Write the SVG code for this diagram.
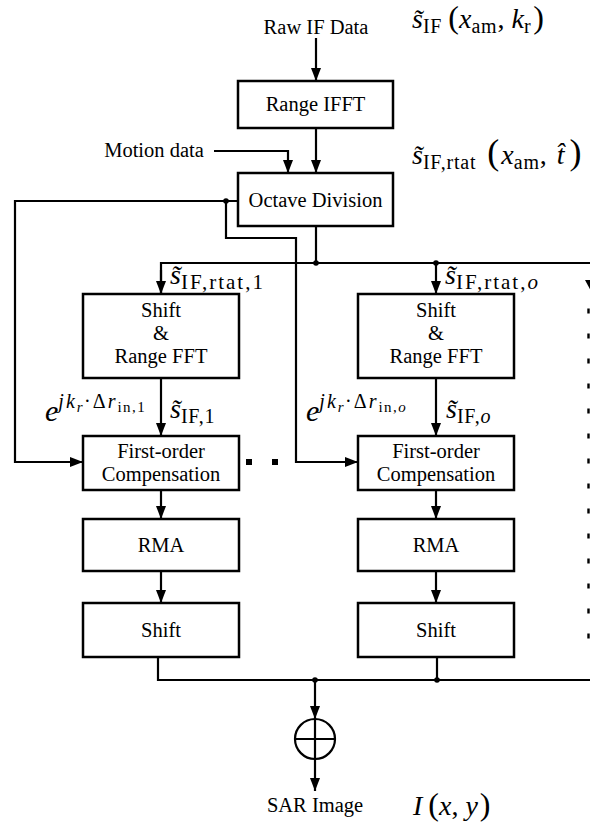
<svg xmlns="http://www.w3.org/2000/svg" width="590" height="828" viewBox="0 0 590 828">
<style>
.box{fill:#fff;stroke:#000;stroke-width:2.5}
.ln{fill:none;stroke:#000;stroke-width:2.2}
text{font-family:"Liberation Serif","Times New Roman",serif;fill:#000}
.t{font-size:20.5px;text-anchor:middle}
.m{font-size:28px}
.mi{font-style:italic}
.sb{font-size:20px;letter-spacing:0.8px}
.sw{font-size:21px;letter-spacing:2px}
.sp{font-size:20px;letter-spacing:2px}
.ss{font-size:15px;letter-spacing:1.5px}
.dot{fill:#000}
</style>
<defs>
<marker id="ah" viewBox="0 0 13 10" refX="13" refY="5" markerWidth="13" markerHeight="10" orient="auto" markerUnits="userSpaceOnUse">
<path d="M0,0 L13,5 L0,10 z" fill="#000"/>
</marker>
</defs>

<g id="connectors">
<path class="ln" d="M316,38 V81" marker-end="url(#ah)"/>
<path class="ln" d="M316,128 V173" marker-end="url(#ah)"/>
<path class="ln" d="M214,151 H288 V173" marker-end="url(#ah)"/>
<path class="ln" d="M238,201 H15 V462 H83" marker-end="url(#ah)"/>
<path class="ln" d="M226,201 V238 H296 V462 H358" marker-end="url(#ah)"/>
<path class="ln" d="M316,226 V263"/>
<path class="ln" d="M161,294 V263 H592"/>
<path class="ln" d="M161,270 V294" marker-end="url(#ah)"/>
<path class="ln" d="M436,263 V294" marker-end="url(#ah)"/>
<path class="ln" d="M161,378 V436" marker-end="url(#ah)"/>
<path class="ln" d="M436,378 V436" marker-end="url(#ah)"/>
<path class="ln" d="M161,490 V519" marker-end="url(#ah)"/>
<path class="ln" d="M436,490 V519" marker-end="url(#ah)"/>
<path class="ln" d="M161,571 V603" marker-end="url(#ah)"/>
<path class="ln" d="M436,571 V603" marker-end="url(#ah)"/>
<path class="ln" d="M158,657 V680 H592"/>
<path class="ln" d="M437,657 V680"/>
<path class="ln" d="M315,680 V719" marker-end="url(#ah)"/>
<path class="ln" d="M315,759 V791" marker-end="url(#ah)"/>
<path d="M588.5,308.5 V640" stroke="#000" stroke-width="2.4" stroke-dasharray="5 20" fill="none"/>
<polygon points="585,280 597,280 591,291" fill="#000"/>
<circle class="dot" cx="226" cy="201" r="2.8"/>
<circle class="dot" cx="316" cy="263" r="2.8"/>
<circle class="dot" cx="436" cy="263" r="2.8"/>
<circle class="dot" cx="315" cy="680" r="2.8"/>
<circle class="dot" cx="437" cy="680" r="2.8"/>
<rect x="246" y="459" width="6" height="6" fill="#000"/>
<rect x="272" y="459" width="6" height="6" fill="#000"/>
</g>

<g id="raw-if">
<text class="t" x="316" y="34">Raw IF Data</text>
</g>
<g id="label-sif">
<text class="m" x="412" y="28"><tspan class="mi">s̃</tspan><tspan class="sb" dy="5">IF</tspan><tspan dy="-5" dx="6" font-size="32">(</tspan><tspan class="mi">x</tspan><tspan class="sb" dy="5">am</tspan><tspan dy="-5">, </tspan><tspan class="mi">k</tspan><tspan class="sb" dy="5">r</tspan><tspan dy="-5" dx="2" font-size="32">)</tspan></text>
</g>
<g id="range-ifft">
<rect class="box" x="238" y="81" width="155" height="47"/>
<text class="t" x="315.5" y="111">Range IFFT</text>
</g>
<g id="motion">
<text class="t" x="154" y="157">Motion data</text>
</g>
<g id="label-rtat">
<text class="m" x="412" y="164"><tspan class="mi">s̃</tspan><tspan class="sb" dy="5">IF,rtat</tspan><tspan dy="-5" dx="11" font-size="36">(</tspan><tspan class="mi" dx="2">x</tspan><tspan class="sb" dy="5">am</tspan><tspan dy="-5">, </tspan><tspan class="mi" dx="3">t̂</tspan><tspan dx="5" font-size="36">)</tspan></text>
</g>
<g id="octave">
<rect class="box" x="238" y="173" width="155" height="53"/>
<text class="t" x="315.5" y="207">Octave Division</text>
</g>
<g id="label-rtat1">
<text class="m" x="170" y="284"><tspan class="mi">s̃</tspan><tspan class="sw" dy="5">IF,rtat,1</tspan></text>
</g>
<g id="label-rtato">
<text class="m" x="445" y="284"><tspan class="mi">s̃</tspan><tspan class="sw" dy="5">IF,rtat,</tspan><tspan class="sw mi">o</tspan></text>
</g>
<g id="label-exp1">
<text class="m" x="45" y="421"><tspan class="mi" font-size="30">e</tspan><tspan class="sp mi" dy="-13">jk</tspan><tspan class="ss mi" dy="4">r</tspan><tspan class="sp" dy="-4">·Δ</tspan><tspan class="sp mi">r</tspan><tspan class="ss" dy="4">in,1</tspan></text>
</g>
<g id="label-sif1">
<text class="m" x="170" y="418"><tspan class="mi">s̃</tspan><tspan class="sb" dy="5">IF,1</tspan></text>
</g>
<g id="label-expo">
<text class="m" x="306" y="421"><tspan class="mi" font-size="30">e</tspan><tspan class="sp mi" dy="-13">jk</tspan><tspan class="ss mi" dy="4">r</tspan><tspan class="sp" dy="-4">·Δ</tspan><tspan class="sp mi">r</tspan><tspan class="ss" dy="4">in,</tspan><tspan class="ss mi">o</tspan></text>
</g>
<g id="label-sifo">
<text class="m" x="446" y="418"><tspan class="mi">s̃</tspan><tspan class="sb" dy="5">IF,</tspan><tspan class="sb mi">o</tspan></text>
</g>
<g id="shift-fft-1">
<rect class="box" x="83" y="294" width="156" height="84"/>
<text class="t" x="161" y="317">Shift</text>
<text class="t" x="161" y="340">&amp;</text>
<text class="t" x="161" y="363">Range FFT</text>
</g>
<g id="shift-fft-o">
<rect class="box" x="358" y="294" width="156" height="84"/>
<text class="t" x="436" y="317">Shift</text>
<text class="t" x="436" y="340">&amp;</text>
<text class="t" x="436" y="363">Range FFT</text>
</g>
<g id="comp-1">
<rect class="box" x="83" y="436" width="156" height="54"/>
<text class="t" x="161" y="458">First-order</text>
<text class="t" x="161" y="481">Compensation</text>
</g>
<g id="comp-o">
<rect class="box" x="358" y="436" width="156" height="54"/>
<text class="t" x="436" y="458">First-order</text>
<text class="t" x="436" y="481">Compensation</text>
</g>
<g id="rma-1">
<rect class="box" x="83" y="519" width="156" height="52"/>
<text class="t" x="161" y="552">RMA</text>
</g>
<g id="rma-o">
<rect class="box" x="358" y="519" width="156" height="52"/>
<text class="t" x="436" y="552">RMA</text>
</g>
<g id="shift-1">
<rect class="box" x="83" y="603" width="156" height="54"/>
<text class="t" x="161" y="637">Shift</text>
</g>
<g id="shift-o">
<rect class="box" x="358" y="603" width="156" height="54"/>
<text class="t" x="436" y="637">Shift</text>
</g>
<g id="sum">
<circle cx="315" cy="739" r="20" fill="#fff" stroke="#000" stroke-width="2.2"/>
<path class="ln" d="M295,739 H335 M315,719 V759"/>
</g>
<g id="sar">
<text class="t" x="315" y="812">SAR Image</text>
</g>
<g id="label-I">
<text class="m" x="413" y="815" font-size="30"><tspan class="mi">I</tspan><tspan dx="6" font-size="32">(</tspan><tspan class="mi">x</tspan><tspan>, </tspan><tspan class="mi">y</tspan><tspan dx="2" font-size="32">)</tspan></text>
</g>
</svg>
